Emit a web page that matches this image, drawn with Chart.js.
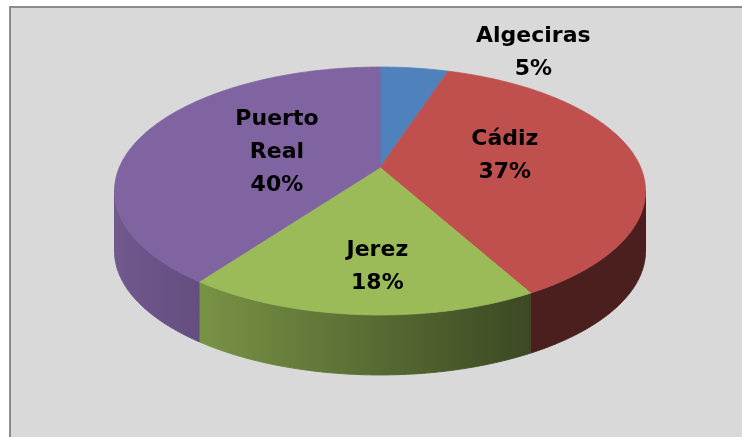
<!DOCTYPE html>
<html>
<head>
<meta charset="utf-8">
<script src="https://cdn.jsdelivr.net/npm/chart.js@4.4.0/dist/chart.umd.min.js"></script>
<style>
  html, body { margin: 0; padding: 0; background: #fff; overflow: hidden; }
  #frame { position: absolute; left: 9px; top: 6px; width: 780px; height: 480px;
           background: #d9d9d9; border: 2px solid #8c8c8c; }
  #graph { position: absolute; left: 0; top: 0; }
</style>
</head>
<body>
<div id="frame"></div>
<canvas id="graph" width="742" height="437"></canvas>
<script>
const categories = ["Algeciras", "Cádiz", "Jerez", "Puerto Real"];
const values = [5, 37, 18, 40];
const colors = ["#4f81bd", "#c0504d", "#9bbb59", "#8064a2"];

// perspective look of the 3D pie
const TILT = 0.1895;
const SX = 2.607;
const SY = 1.195;
const DEPTH = 60;

function project(arc, a, f) {
    const u = f * Math.cos(a), v = f * Math.sin(a);
    const w = 1 - TILT * v;
    return [arc.x + SX * arc.outerRadius * u / w, arc.y + SY * arc.outerRadius * v / w];
}

function shade(hex, m) {
    const n = parseInt(hex.slice(1), 16);
    const r = Math.round(((n >> 16) & 255) * m);
    const g = Math.round(((n >> 8) & 255) * m);
    const b = Math.round((n & 255) * m);
    return 'rgb(' + r + ',' + g + ',' + b + ')';
}

function rimPoints(arc, a0, a1) {
    const pts = [];
    const steps = Math.max(2, Math.ceil((a1 - a0) / 0.01));
    for (let i = 0; i <= steps; i++) {
        pts.push(project(arc, a0 + (a1 - a0) * i / steps, 1));
    }
    return pts;
}

const pie3d = {
    id: 'pie3d',
    beforeDatasetsDraw(chart, args, opts) {
        const ctx = chart.ctx;
        const arcs = chart.getDatasetMeta(0).data;
        const lo = Math.asin(TILT), hi = Math.PI - lo;

        /* Sides */
        arcs.forEach((arc, i) => {
            const a0 = Math.max(arc.startAngle, lo);
            const a1 = Math.min(arc.endAngle, hi);
            if (a1 <= a0) return;
            const pts = rimPoints(arc, a0, a1);
            const left = arc.x - SX * arc.outerRadius / Math.sqrt(1 - TILT * TILT);
            const right = arc.x + SX * arc.outerRadius / Math.sqrt(1 - TILT * TILT);
            const grad = ctx.createLinearGradient(left, 0, right, 0);
            grad.addColorStop(0, shade(colors[i], 0.88));
            grad.addColorStop(0.78, shade(colors[i], 0.39));
            grad.addColorStop(1, shade(colors[i], 0.39));
            ctx.beginPath();
            pts.forEach((p, k) => k ? ctx.lineTo(p[0], p[1]) : ctx.moveTo(p[0], p[1]));
            for (let k = pts.length - 1; k >= 0; k--) ctx.lineTo(pts[k][0], pts[k][1] + DEPTH);
            ctx.closePath();
            ctx.fillStyle = grad;
            ctx.strokeStyle = grad;
            ctx.lineWidth = 1;
            ctx.fill();
            ctx.stroke();
        });

        /* Top */
        arcs.forEach((arc, i) => {
            const pts = rimPoints(arc, arc.startAngle, arc.endAngle);
            ctx.beginPath();
            ctx.moveTo(arc.x, arc.y);
            pts.forEach(p => ctx.lineTo(p[0], p[1]));
            ctx.closePath();
            ctx.fillStyle = colors[i];
            ctx.strokeStyle = colors[i];
            ctx.lineWidth = 0.8;
            ctx.fill();
            ctx.stroke();
        });

        /* Labels */
        const total = values.reduce((s, v) => s + v, 0);
        ctx.fillStyle = '#000';
        ctx.font = 'bold 22px "DejaVu Sans", sans-serif';
        ctx.textAlign = 'center';
        ctx.textBaseline = 'middle';
        arcs.forEach((arc, i) => {
            const place = opts.places[i];
            const mid = (arc.startAngle + arc.endAngle) / 2;
            const p = project(arc, mid, place.f);
            const lines = categories[i].split(' ');
            lines.push(Math.round(values[i] / total * 100) + '%');
            lines.forEach((t, k) => {
                ctx.fillText(t, p[0] + place.dx, p[1] + place.dy + (k - (lines.length - 1) / 2) * 33);
            });
        });
        return false;
    }
};

const ctx = document.getElementById('graph').getContext('2d');
const myChart = new Chart(ctx, {
    type: 'pie',
    data: {
        labels: categories,
        datasets: [{
            data: values,
            backgroundColor: colors,
            borderWidth: 0,
        }]
    },
    options: {
        responsive: false,
        animation: false,
        layout: {
            padding: { left: 280, right: 262, top: 67.5, bottom: 169.5 }
        },
        plugins: {
            legend: { display: false },
            tooltip: { enabled: false },
            pie3d: {
                places: [
                    { f: 1, dx: 119, dy: -15 },
                    { f: 0.485, dx: 0, dy: -6 },
                    { f: 0.72, dx: 11, dy: 0 },
                    { f: 0.426, dx: 0, dy: 0 }
                ]
            }
        }
    },
    plugins: [pie3d]
});
</script>
</body>
</html>
